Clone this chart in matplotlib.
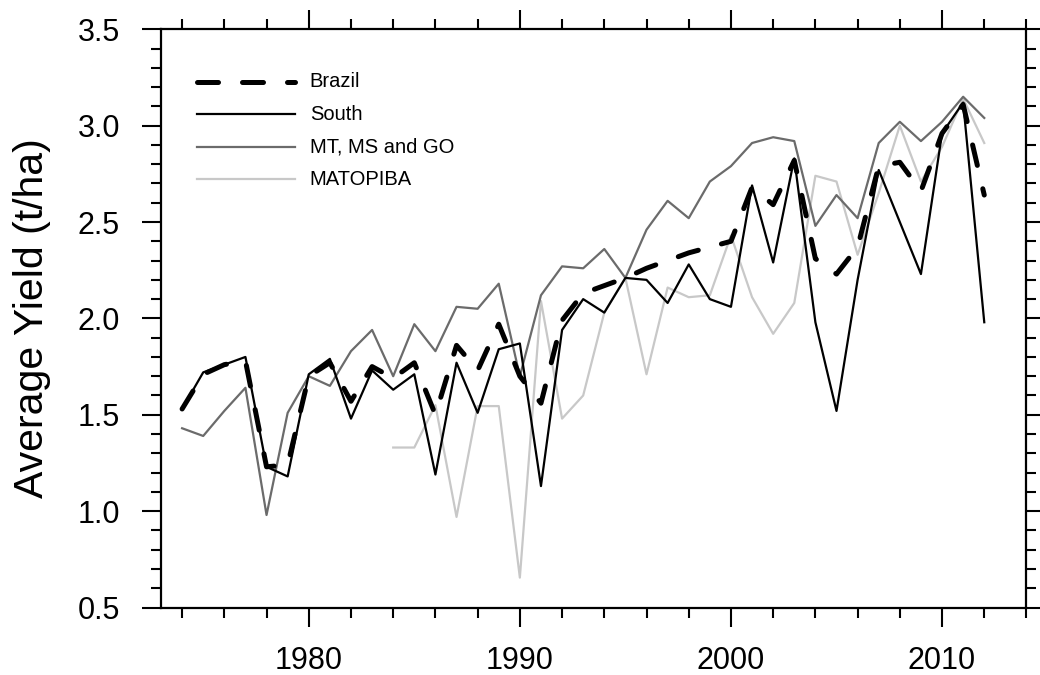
import matplotlib
matplotlib.use("Agg")
import matplotlib.pyplot as plt
from matplotlib.ticker import MultipleLocator
import numpy as np

plt.rcParams['font.family'] = ['Liberation Sans', 'DejaVu Sans']

years = np.arange(1974, 2013)

brazil = [1.53, 1.71, 1.76, 1.78, 1.23, 1.24, 1.70, 1.77, 1.57, 1.75,
          1.69, 1.77, 1.50, 1.86, 1.73, 1.97, 1.70, 1.56, 1.99, 2.13,
          2.17, 2.21, 2.26, 2.30, 2.34, 2.37, 2.40, 2.68, 2.59, 2.82,
          2.31, 2.23, 2.37, 2.79, 2.81, 2.66, 2.96, 3.11, 2.64]

south = [1.53, 1.72, 1.76, 1.80, 1.23, 1.18, 1.71, 1.79, 1.48, 1.73,
         1.63, 1.71, 1.19, 1.77, 1.51, 1.84, 1.87, 1.13, 1.94, 2.10,
         2.03, 2.21, 2.20, 2.08, 2.28, 2.10, 2.06, 2.69, 2.29, 2.83,
         1.98, 1.52, 2.20, 2.77, 2.50, 2.23, 2.96, 3.12, 1.98]

mt_ms_go = [1.43, 1.39, 1.52, 1.64, 0.98, 1.51, 1.70, 1.65, 1.83, 1.94,
            1.70, 1.97, 1.83, 2.06, 2.05, 2.18, 1.70, 2.12, 2.27, 2.26,
            2.36, 2.21, 2.46, 2.61, 2.52, 2.71, 2.79, 2.91, 2.94, 2.92,
            2.48, 2.64, 2.52, 2.91, 3.02, 2.92, 3.02, 3.15, 3.04]

# MATOPIBA series only starts in 1984
matopiba = [np.nan] * 10 + [
            1.33, 1.33, 1.55, 0.97, 1.545, 1.545, 0.655, 2.09, 1.48, 1.60,
            2.03, 2.21, 1.71, 2.16, 2.11, 2.12, 2.43, 2.11, 1.92, 2.08,
            2.74, 2.71, 2.33, 2.65, 3.00, 2.71, 2.89, 3.14, 2.91]

labels = ["Brazil", "South", "MT, MS and GO", "MATOPIBA"]

fig = plt.figure(figsize=(10.4, 6.75), dpi=100)
ax = fig.add_axes([0.1548, 0.1, 0.8322, 0.8566])

styles = [
    dict(color="black", lw=3.6, ls=(0, (4.2, 4.8)), dash_capstyle="round"),
    dict(color="black", lw=1.6),
    dict(color="#6b6b6b", lw=1.6),
    dict(color="#c8c8c8", lw=1.6),
]
series = [brazil, south, mt_ms_go, matopiba]

# draw lighter series underneath
for data, st in list(zip(series, styles))[::-1]:
    ax.plot(years, data, **st)

ax.set_xlim(1973, 2014)
ax.set_ylim(0.5, 3.5)

ax.xaxis.set_major_locator(MultipleLocator(10))
ax.xaxis.set_minor_locator(MultipleLocator(2))
ax.yaxis.set_major_locator(MultipleLocator(0.5))
ax.yaxis.set_minor_locator(MultipleLocator(0.1))
ax.yaxis.set_major_formatter(plt.FuncFormatter(lambda v, p: f"{v:.1f}"))

ax.tick_params(which="both", direction="out", top=True, right=True, width=1.5)
ax.tick_params(which="major", length=13.5, labelsize=22)
ax.tick_params(axis="y", which="major", pad=16)
ax.tick_params(axis="x", which="major", pad=14)
ax.tick_params(which="minor", length=7)
for s in ax.spines.values():
    s.set_linewidth(1.6)

ax.set_ylabel("Average Yield (t/ha)", fontsize=29.5, labelpad=19)

# legend drawn in axes coordinates
rows = [0.909, 0.8535, 0.797, 0.741]
for lab, st, yy in zip(labels, styles, rows):
    ax.plot([0.0416, 0.1548], [yy, yy], transform=ax.transAxes, **st)
    ax.text(0.172, yy, lab, transform=ax.transAxes, fontsize=14.5,
            va="center", ha="left")

fig.savefig("out.png", dpi=100)
